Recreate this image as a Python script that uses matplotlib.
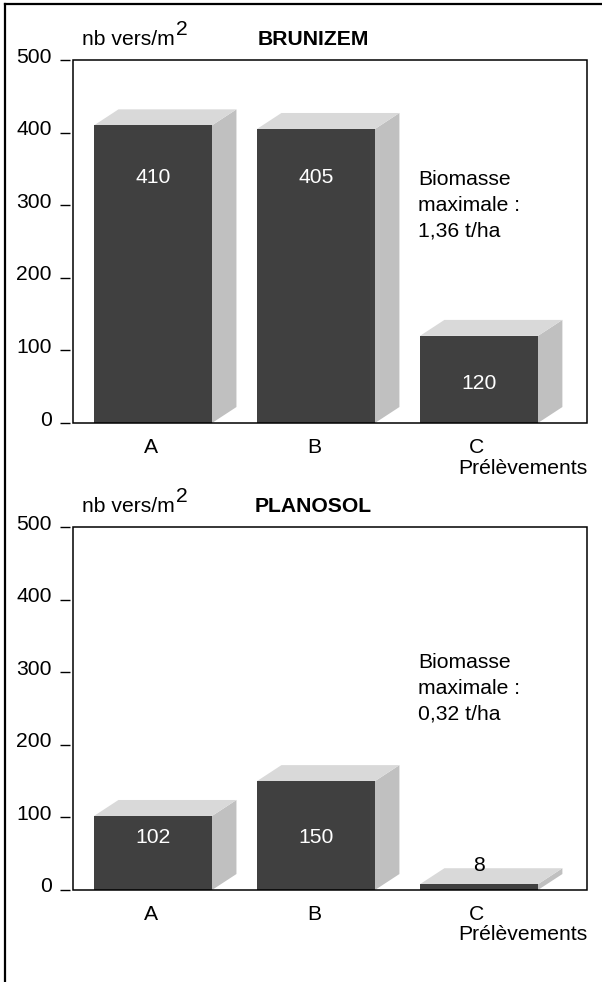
import matplotlib
matplotlib.use("Agg")
import matplotlib.pyplot as plt
from matplotlib.patches import Rectangle, Polygon
from matplotlib.lines import Line2D
from matplotlib.transforms import ScaledTranslation

plt.rcParams['font.family'] = ['Liberation Sans', 'DejaVu Sans']

# Earthworm density (nb vers/m2) per sampling site
categories = ['A', 'B', 'C']
brunizem = [410, 405, 120]
planosol = [102, 150, 8]
soil_names = ['BRUNIZEM', 'PLANOSOL']
biomass = ['1,36 t/ha', '0,32 t/ha']
yticks = [0, 100, 200, 300, 400, 500]

# layout of the value labels and side notes, in data units
label_y = [[338, 338, 55], [73, 73, 34]]
label_color = [['white', 'white', 'white'], ['white', 'white', 'black']]
note_y = [300, 278]

FS = 15.2
FRONT = '#404040'
SIDE = '#c0c0c0'
TOP = '#d9d9d9'

W, H = 602, 982
fig = plt.figure(figsize=(W / 100, H / 100), dpi=100)

# outer frame (top and left edges only)
fig.add_artist(Line2D([5 / W, 5 / W], [0, 1 - 4 / H], color='black', lw=1.6))
fig.add_artist(Line2D([5 / W, 1], [1 - 4 / H, 1 - 4 / H], color='black', lw=1.6))

width = 0.724
dx, dy = 0.150, 22


def draw_panel(ax, values, title, note, ly, lc, ny):
    ax.set_xlim(-0.491, 2.663)
    ax.set_ylim(0, 500)
    for s in ax.spines.values():
        s.set_visible(False)
    ax.spines['left'].set_position(('outward', 2.2))
    ax.add_patch(Rectangle((0, 0), 1, 1, transform=ax.transAxes, fill=False,
                           lw=1.1, ec='black', clip_on=False, zorder=5))

    for i, v in enumerate(values):
        x0 = i - width / 2
        x1 = i + width / 2
        ax.add_patch(Polygon([(x1, 0), (x1 + dx, dy), (x1 + dx, v + dy), (x1, v)],
                             closed=True, fc=SIDE, ec='none'))
        ax.add_patch(Polygon([(x0, v), (x0 + dx, v + dy), (x1 + dx, v + dy), (x1, v)],
                             closed=True, fc=TOP, ec='none'))
        ax.add_patch(Rectangle((x0, 0), width, v, fc=FRONT, ec='none', zorder=3))
        ax.text(i, ly[i], str(v), ha='center', va='center', fontsize=FS,
                color=lc[i], zorder=4)

    ax.set_yticks(yticks)
    ax.set_yticklabels([str(t) for t in yticks])
    ax.tick_params(axis='y', direction='out', length=7.2, width=1, pad=5.8,
                   labelsize=FS)
    for lab in ax.get_yticklabels():
        lab.set_transform(lab.get_transform() +
                          ScaledTranslation(0, 5 / 100, fig.dpi_scale_trans))
    ax.set_xticks(range(len(categories)))
    ax.set_xticklabels(categories)
    ax.tick_params(axis='x', length=0, pad=10.5, labelsize=FS)
    for lab in ax.get_xticklabels():
        lab.set_transform(lab.get_transform() +
                          ScaledTranslation(-2 / 100, 0, fig.dpi_scale_trans))

    unit = ax.annotate('nb vers/m', xy=(0, 1), xycoords='axes fraction',
                       xytext=(9, 15), textcoords='offset pixels',
                       ha='left', va='baseline', fontsize=FS)
    ax.annotate('2', xy=(1, 0), xycoords=unit,
                xytext=(1, 14), textcoords='offset pixels',
                ha='left', va='baseline', fontsize=FS)
    ax.annotate(title, xy=(0.467, 1), xycoords='axes fraction',
                xytext=(0, 15), textcoords='offset pixels',
                ha='center', va='baseline', fontsize=FS, fontweight='bold')
    ax.annotate('Prélèvements', xy=(1, 0), xycoords='axes fraction',
                xytext=(0, -45), textcoords='offset pixels',
                ha='right', va='center', fontsize=FS)
    ax.text(1.626, ny, 'Biomasse\nmaximale :\n' + note, ha='left', va='center',
            fontsize=FS, linespacing=1.45)


left = 73 / W
aw = (587 - 73) / W
ah = 363 / H
ax1 = fig.add_axes([left, 1 - 423 / H, aw, ah])
ax2 = fig.add_axes([left, 1 - 890 / H, aw, ah])

draw_panel(ax1, brunizem, soil_names[0], biomass[0], label_y[0], label_color[0], note_y[0])
draw_panel(ax2, planosol, soil_names[1], biomass[1], label_y[1], label_color[1], note_y[1])

fig.savefig('out.png', dpi=100)
